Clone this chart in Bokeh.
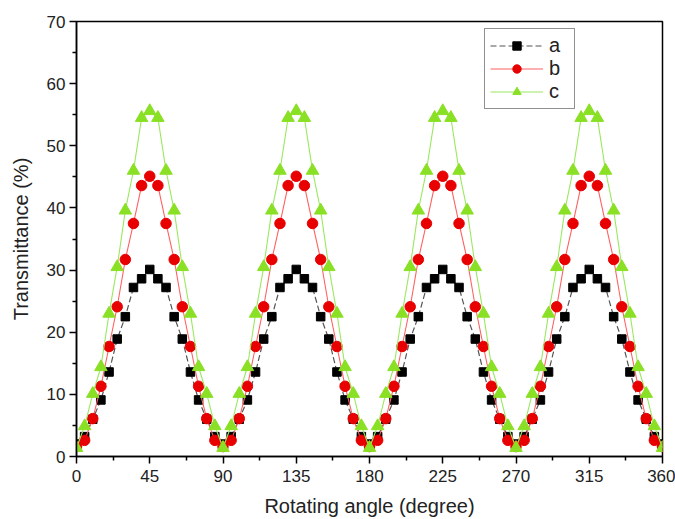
from bokeh.plotting import figure
from bokeh.models import FixedTicker, Legend, LegendItem, Range1d
from bokeh.embed import file_html
from bokeh.resources import INLINE

# ---- data ----
angles = list(range(0, 361, 5))
series_a = [2.0, 3.2, 6.0, 9.1, 13.6, 18.9, 22.5, 27.2, 28.6, 30.1, 28.6, 27.2, 22.5, 18.9, 13.6, 9.1, 6.0, 3.2,
            2.0, 3.2, 6.0, 9.1, 13.6, 18.9, 22.5, 27.2, 28.6, 30.1, 28.6, 27.2, 22.5, 18.9, 13.6, 9.1, 6.0, 3.2,
            2.0, 3.2, 6.0, 9.1, 13.6, 18.9, 22.5, 27.2, 28.6, 30.1, 28.6, 27.2, 22.5, 18.9, 13.6, 9.1, 6.0, 3.2,
            2.0, 3.2, 6.0, 9.1, 13.6, 18.9, 22.5, 27.2, 28.6, 30.1, 28.6, 27.2, 22.5, 18.9, 13.6, 9.1, 6.0, 3.2,
            2.0]
series_b = [1.6, 2.6, 6.1, 11.3, 17.7, 24.1, 31.7, 37.5, 43.6, 45.1, 43.6, 37.5, 31.7, 24.1, 17.7, 11.3, 6.1, 2.6,
            1.6, 2.6, 6.1, 11.3, 17.7, 24.1, 31.7, 37.5, 43.6, 45.1, 43.6, 37.5, 31.7, 24.1, 17.7, 11.3, 6.1, 2.6,
            1.6, 2.6, 6.1, 11.3, 17.7, 24.1, 31.7, 37.5, 43.6, 45.1, 43.6, 37.5, 31.7, 24.1, 17.7, 11.3, 6.1, 2.6,
            1.6, 2.6, 6.1, 11.3, 17.7, 24.1, 31.7, 37.5, 43.6, 45.1, 43.6, 37.5, 31.7, 24.1, 17.7, 11.3, 6.1, 2.6,
            1.6]
series_c = [1.4, 4.9, 10.1, 14.4, 23.0, 30.5, 39.6, 46.0, 54.5, 55.6, 54.5, 46.0, 39.6, 30.5, 23.0, 14.4, 10.1, 4.9,
            1.4, 4.9, 10.1, 14.4, 23.0, 30.5, 39.6, 46.0, 54.5, 55.6, 54.5, 46.0, 39.6, 30.5, 23.0, 14.4, 10.1, 4.9,
            1.4, 4.9, 10.1, 14.4, 23.0, 30.5, 39.6, 46.0, 54.5, 55.6, 54.5, 46.0, 39.6, 30.5, 23.0, 14.4, 10.1, 4.9,
            1.4, 4.9, 10.1, 14.4, 23.0, 30.5, 39.6, 46.0, 54.5, 55.6, 54.5, 46.0, 39.6, 30.5, 23.0, 14.4, 10.1, 4.9,
            1.4]
x_ticks = [0, 45, 90, 135, 180, 225, 270, 315, 360]
y_ticks = [0, 10, 20, 30, 40, 50, 60, 70]
labels = ["a", "b", "c"]

FONT = "Liberation Sans"

p = figure(width=675, height=519, output_backend="svg", toolbar_location=None,
           x_range=Range1d(0, 360), y_range=Range1d(0, 70),
           min_border_left=76, min_border_right=13, min_border_top=21, min_border_bottom=60)
p.background_fill_color = "white"
p.border_fill_color = "white"
p.outline_line_color = "black"
p.outline_line_width = 1.5
p.xgrid.visible = False
p.ygrid.visible = False

# series a
la = p.line(angles, series_a, line_color="#555555", line_width=1.2, line_dash="6 3")
sa = p.scatter(angles, series_a, marker="square", size=8.5, fill_color="black", line_color="black")
# series b
lb = p.line(angles, series_b, line_color="#ff6060", line_width=1.1)
sb = p.scatter(angles, series_b, marker="circle", size=10.5, fill_color="#e80000", line_color="#e80000")
# series c
lc = p.line(angles, series_c, line_color="#9be860", line_width=1.1)
sc = p.scatter(angles, series_c, marker="triangle", size=12.5, fill_color="#8ae024", line_color="#8ae024")

x_minor = [22.5 + 45 * i for i in range(8)]
y_minor = [5 + 10 * i for i in range(7)]
p.xaxis.ticker = FixedTicker(ticks=x_ticks, minor_ticks=x_minor)
p.yaxis.ticker = FixedTicker(ticks=y_ticks, minor_ticks=y_minor)

for ax in (p.xaxis, p.yaxis):
    ax.axis_line_width = 1.5
    ax.axis_line_color = "black"
    ax.major_tick_line_width = 1.5
    ax.minor_tick_line_width = 1.5
    ax.major_tick_in = 0
    ax.major_tick_out = 7
    ax.minor_tick_in = 0
    ax.minor_tick_out = 4
    ax.major_label_text_font = FONT
    ax.major_label_text_font_size = "17px"
    ax.major_label_text_color = "#222222"
    ax.axis_label_text_font = FONT
    ax.axis_label_text_font_size = "20px"
    ax.axis_label_text_font_style = "normal"
    ax.axis_label_text_color = "#222222"

p.xaxis.axis_label = "Rotating angle (degree)"
p.yaxis.axis_label = "Transmittance (%)"
p.xaxis.major_label_standoff = 6
p.yaxis.major_label_standoff = 4
p.xaxis.axis_label_standoff = 10
p.yaxis.axis_label_standoff = 12

legend = Legend(items=[LegendItem(label=labels[0], renderers=[la, sa]),
                       LegendItem(label=labels[1], renderers=[lb, sb]),
                       LegendItem(label=labels[2], renderers=[lc, sc])],
                location=(408, 347))
legend.border_line_color = "#222222"
legend.border_line_width = 1.2
legend.background_fill_alpha = 1.0
legend.label_text_font = FONT
legend.label_text_font_size = "20px"
legend.label_text_color = "#222222"
legend.glyph_width = 53
legend.glyph_height = 21
legend.label_height = 21
legend.label_standoff = 6
legend.spacing = 0
legend.padding = 5
legend.margin = 0
p.add_layout(legend)

open("out.html", "w").write(file_html(p, INLINE))
